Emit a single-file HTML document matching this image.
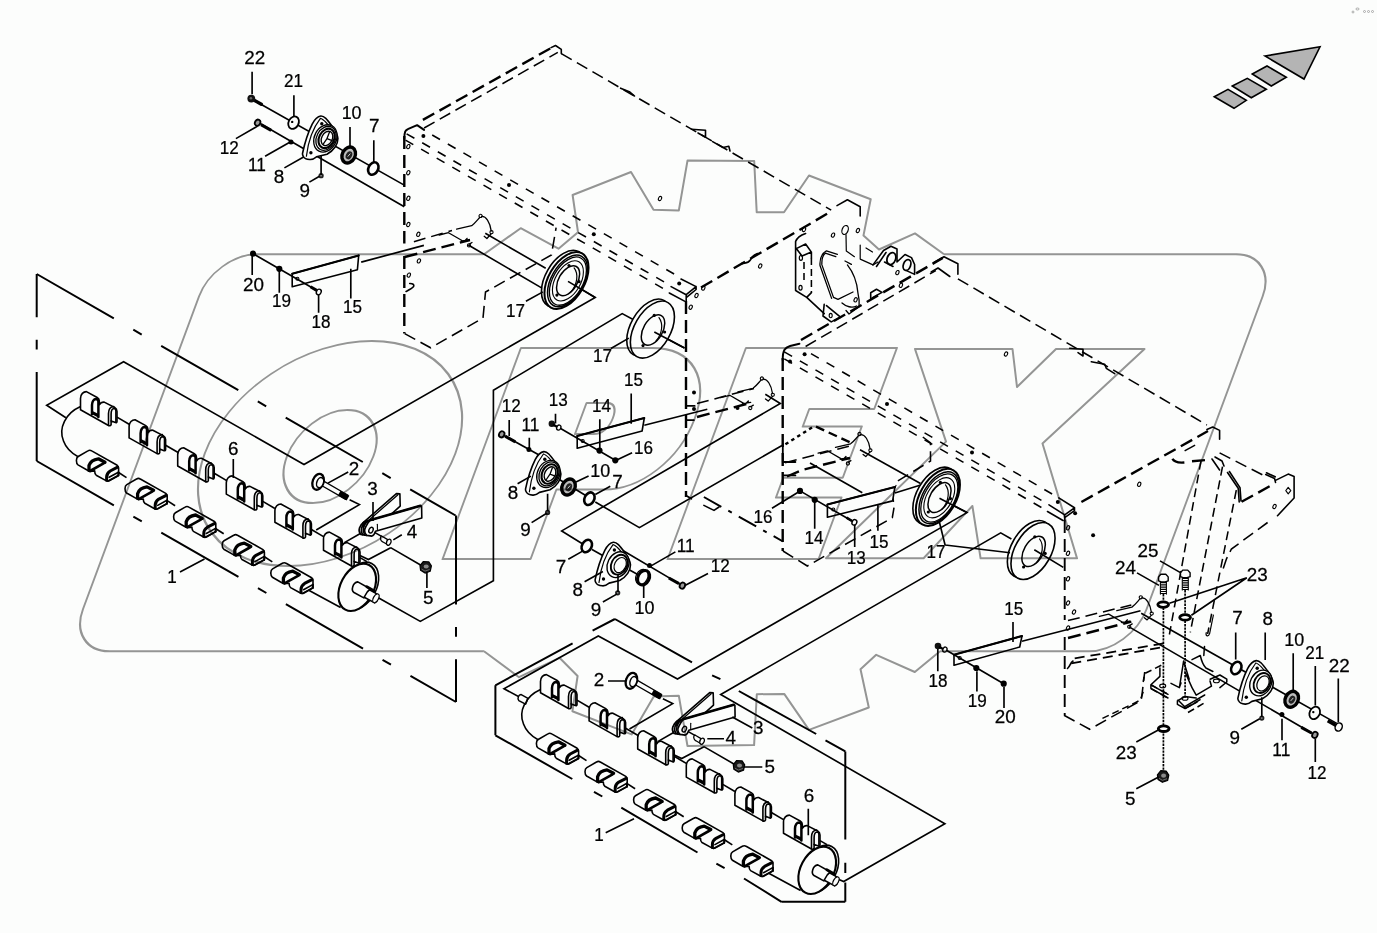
<!DOCTYPE html>
<html>
<head>
<meta charset="utf-8">
<title>Parts diagram</title>
<style>
html,body{margin:0;padding:0;background:#fcfdfc;}
body{width:1377px;height:933px;overflow:hidden;font-family:"Liberation Sans",sans-serif;}
svg{display:block;position:absolute;left:0;top:0;}
.k{stroke:#000;fill:none;stroke-width:1.6;stroke-linecap:round;stroke-linejoin:round;}
.t{stroke:#000;fill:none;stroke-width:1.65;stroke-linecap:butt;}
.w{stroke:#000;fill:#fcfdfc;stroke-width:1.6;stroke-linejoin:round;}
.b{stroke:#000;fill:none;stroke-width:2.2;stroke-linecap:round;stroke-linejoin:round;}
.f{fill:#000;stroke:none;}
.dd{stroke:#000;fill:none;stroke-width:2;stroke-dasharray:89 22.5 9.7 22.5;}
.fb{stroke:#000;fill:none;stroke-width:2;}
.hd{stroke:#000;fill:none;stroke-width:2.4;stroke-dasharray:13 6;}
.hs{stroke:#000;fill:none;stroke-width:1.55;stroke-dasharray:12 6;}
.wm{stroke:#969696;fill:none;stroke-width:2;stroke-linejoin:round;}
text{font-family:"Liberation Sans",sans-serif;font-size:18.5px;fill:#000;stroke:#000;stroke-width:0.25;text-anchor:middle;}
</style>
</head>
<body>
<svg width="1377" height="933" viewBox="0 0 1377 933">
<defs>
<!-- upper clip (part 6) origin = top-left of bbox -->
<g id="cu">
<path class="w" d="M0,18.2 L0,6.9 C0,2.5 3,0 5.9,0 L16.7,5.9 C18,6.6 18.8,7.8 18.8,9.5 L18.8,13.2 C20,11.2 21.5,10.3 23.7,10.5 L34.2,15.9 C35.8,16.8 36.5,18 36.5,19.8 L36.5,29.8 C36.5,31 35.8,31.3 35,31 L30.6,29.3 L30.6,33 Q30,34.6 28,33.9 Z"/>
<path class="b" style="stroke-width:2.5" d="M11.5,22.5 L11.5,13.5 C11.5,9.8 13.4,7.3 15.6,7.4 C17.2,7.7 17.9,8.6 17.9,10 L17.9,25.5"/>
<path class="f" d="M12,19.3 L17.6,22.2 L17.6,26 L12,23 Z"/>
<path class="k" d="M28,33.9 L28,22 C28,18 30,15.3 33.2,14.9"/>
<path class="k" style="stroke-width:1.6" d="M30.6,29.3 L30.6,22.5 C30.6,19 32,17 33.6,16.9 C35,16.9 35.4,18 35.4,19.5 L35.4,30.6"/>
</g>
<!-- lower clip origin = top-left of bbox -->
<g id="cl">
<path class="w" d="M1.8,6.5 L11.5,0.9 Q13.4,-0.3 15.3,0.9 L40.8,15.3 Q42.2,16.2 42.2,18 L42.2,24.2 Q42.2,25.6 41,26.2 L32.8,30.8 Q31.2,31.6 29.6,30.6 L19.8,25.2 Q18.3,24.2 18.3,20.9 L13.7,21.4 Q12.3,21.3 11.1,20.3 L1.6,14.9 Q0,13.8 0,10.6 Q0,7.6 1.8,6.5 Z"/>
<path class="b" style="stroke-width:3.3" d="M28.6,12.2 L22,8.8 Q14.4,9.8 12.6,15.6 L12.6,20"/>
<path class="b" style="stroke-width:2.6" d="M13.7,21 L27.6,13.2"/>
<path class="b" style="stroke-width:3" d="M41.2,17.2 L33.8,21 Q30.2,23.4 30.2,27 L30.2,30.2"/><path class="b" style="stroke-width:2" d="M42,22.4 L42,25.6"/>
<path class="k" d="M32.7,27.3 L42,22.2 M31.7,31 L42.2,25.3"/>
</g>

<!-- roller end disc + shaft, origin = disc centre -->
<g id="disc">
<ellipse class="w" cx="2.6" cy="-1.4" rx="25.3" ry="16.6" transform="rotate(-62 2.6 -1.4)"/>
<ellipse class="w" style="stroke-width:2.1" cx="0" cy="0" rx="25.3" ry="16.6" transform="rotate(-62)"/>
<path class="w" d="M0.6,-5.4 L12.4,1.2 L12.3,2.6 L19.6,6.6 C21.8,8.6 20.8,14 17.6,15.6 L7,10 L6.6,10.6 L-3.2,5.2 C-6.4,3 -4.6,-4.6 0.6,-5.4 Z"/>
<path class="k" d="M12.3,2.4 C9.5,4 8.2,7.8 7,10"/>
<ellipse class="w" style="stroke-width:1.2" cx="18.7" cy="11" rx="4.8" ry="2.5" transform="rotate(-62 18.7 11)"/>
<path class="b" style="stroke-width:2.8" d="M9.6,-0.6 L17,3.6"/>
</g>
<!-- flanged bolt (2), origin=head centre, pointing 30deg down-right -->
<g id="bolt2">
<path class="w" style="stroke-width:1.3" d="M2.6,-2.4 L30,13.4 L27.6,17.6 L0.4,2 Z"/>
<path class="f" d="M22.4,9 L31.2,14 L28.6,18.6 L19.8,13.6 Z"/>
<ellipse class="w" cx="0" cy="0" rx="8.2" ry="5.4" transform="rotate(-70)" style="stroke-width:2.3"/>
<ellipse class="w" cx="2" cy="0.8" rx="5.2" ry="3.3" transform="rotate(-70 2 0.8)" style="stroke-width:1.5"/>
</g>
<!-- lever (3) origin = hub hole centre -->
<g id="lever">
<path class="w" d="M-8.1,-7.3 L25.4,-36.5 L28.9,-36.2 L29.2,-24 L12,-8.5 L-2,-3 Z"/>
<path class="k" style="stroke-width:1.3" d="M-6.2,-6.4 L26.7,-35.1"/>
<path class="w" style="stroke-width:1.7" d="M-6.6,-8.4 C-11.8,-5 -13.2,1 -10.4,4.2 L-4.2,5.3 L-0.4,-10.1 Z"/>
<path class="k" style="stroke-width:1.6" d="M-2.6,-9.6 C-7.6,-6 -9,0 -6.4,5 M-4.6,-9 C-9.6,-5.5 -11,0.5 -8.4,4.6"/>
<path class="w" d="M-0.4,-10.1 L49.4,-24.3 L50.6,-23.8 L50.8,-12.1 L4.5,1.1 C3.5,4 2.5,5.6 1,6 L-4.2,5.3 C-6.5,3 -6.8,-0.5 -5.3,-3.1 C-4.2,-6 -2.5,-8.6 -0.4,-10.1 Z"/>
<path class="k" style="stroke-width:2.6" d="M-0.4,-10.1 L49.4,-24.3"/>
<ellipse class="w" style="stroke-width:1.4" cx="0" cy="0" rx="2" ry="3" transform="rotate(25)"/>
<path class="k" style="stroke-width:1.1" d="M6.4,-5.8 L6.4,-0.6"/>
</g>
<!-- pin (4) origin=centre -->
<g id="pin4">
<path class="w" style="stroke-width:1.3" d="M-4.6,-3 L1.5,0.6 C0,2.5 0.5,5.5 2.4,6.2 L-3.6,2.8 C-6.2,1.5 -6.4,-2 -4.6,-3 Z"/>
<ellipse class="w" style="stroke-width:1.3" cx="2.6" cy="3.2" rx="2.1" ry="3.2" transform="rotate(25 2.6 3.2)"/>
</g>
<!-- hex nut (5) origin=centre -->
<g id="nut5">
<path d="M-5.6,-1.5 L-2.2,-5.6 L3.2,-5.2 L5.8,-1.2 L4.6,4.2 L-0.6,6 L-5,3.2 Z" fill="#1a1a1a" stroke="#000" stroke-width="1.2" stroke-linejoin="round"/>
<ellipse cx="0.6" cy="-0.6" rx="2.5" ry="2.1" fill="#8a8a8a"/>
<path d="M-4,2 L-0.6,4 L4,2.4" stroke="#777" stroke-width="0.9" fill="none"/>
</g>

<!-- flange 8, origin = boss centre -->
<g id="fl8">
<path class="w" d="M-23.5,15.5 C-21.5,6 -18,-5.5 -13.8,-13.9 C-11.4,-18.6 -9,-21.6 -5.2,-22 C-1.6,-22.2 1,-18.6 6.3,-11.5 C9.4,-7.2 11.6,-3.4 11.9,0.5 C12,6 8,12.5 1,16.2 L-9.5,18.8 C-12,20.8 -14,21.8 -16.3,21.5 C-19.4,21.4 -22,20 -22.8,18.2 C-23.4,17.2 -23.6,16.4 -23.5,15.5 Z"/>
<path class="k" style="stroke-width:1.2" d="M-19.6,18.2 C-18,5 -13,-10 -5.6,-19.6 M-5.6,-19.6 C-2,-19 3,-12.6 8.4,-5"/>
<ellipse class="w" style="stroke-width:1.3" cx="-0.6" cy="0.4" rx="11" ry="14.2" transform="rotate(27 -0.6 0.4)"/>
<ellipse class="w" style="stroke-width:1.3" cx="0" cy="0.3" rx="9.4" ry="12.6" transform="rotate(27 0 0.3)"/>
<ellipse class="w" style="stroke-width:2.1" cx="0.6" cy="0.4" rx="7.5" ry="10.2" transform="rotate(27 0.6 0.4)"/>
<ellipse class="w" style="stroke-width:1.4" cx="1" cy="0.4" rx="5.3" ry="7.6" transform="rotate(27 1 0.4)"/>
<path class="k" style="stroke-width:1.3" d="M1,0.6 L3.4,-5.8 M1,0.6 L-3,6.4 M1,0.6 L6.2,2.6"/>
<circle class="f" cx="-4.2" cy="-14.3" r="1.7"/><circle class="f" cx="-15.1" cy="14.7" r="1.7"/>
</g>
<g id="fl8b">
<path class="w" d="M-23.5,15.5 C-21.5,6 -18,-5.5 -13.8,-13.9 C-11.4,-18.6 -9,-21.6 -5.2,-22 C-1.6,-22.2 1,-18.6 6.3,-11.5 C9.4,-7.2 11.6,-3.4 11.9,0.5 C12,6 8,12.5 1,16.2 L-9.5,18.8 C-12,20.8 -14,21.8 -16.3,21.5 C-19.4,21.4 -22,20 -22.8,18.2 C-23.4,17.2 -23.6,16.4 -23.5,15.5 Z"/>
<path class="k" style="stroke-width:1.2" d="M-19.6,18.2 C-18,5 -13,-10 -5.6,-19.6 M-5.6,-19.6 C-2,-19 3,-12.6 8.4,-5"/>
<ellipse class="w" style="stroke-width:1.4" cx="-0.6" cy="0.4" rx="10.4" ry="13.4" transform="rotate(27 -0.6 0.4)"/>
<ellipse class="w" style="stroke-width:1.9" cx="0.6" cy="0.4" rx="7.8" ry="10.4" transform="rotate(27 0.6 0.4)"/>
<ellipse class="w" style="stroke-width:1.2" cx="1.6" cy="0.8" rx="5.6" ry="8" transform="rotate(27 1.6 0.8)"/>
<circle class="f" cx="-4.2" cy="-14.3" r="1.7"/><circle class="f" cx="-15.1" cy="14.7" r="1.7"/>
</g>
<g id="br10"><ellipse cx="0" cy="0" rx="6.4" ry="8.3" transform="rotate(27)" fill="#bbb" stroke="#000" stroke-width="3.4"/><ellipse cx="0.4" cy="0.2" rx="3" ry="4.2" transform="rotate(27)" fill="#222"/><path d="M-1,1.6 L1.6,-1.4" stroke="#ccc" stroke-width="1"/></g>
<g id="br10b"><ellipse cx="0" cy="0" rx="5.6" ry="7.6" transform="rotate(27)" fill="#fcfdfc" stroke="#000" stroke-width="3.1"/><ellipse cx="-1.8" cy="-0.8" rx="5.8" ry="7.8" transform="rotate(27 -1.8 -0.8)" fill="none" stroke="#000" stroke-width="1.2"/></g>
<g id="rg7"><ellipse cx="0" cy="0" rx="4.8" ry="6.6" transform="rotate(27)" fill="#fcfdfc" stroke="#000" stroke-width="2.6"/></g>
<g id="rg21"><ellipse cx="0" cy="0" rx="5" ry="6.5" transform="rotate(27)" fill="#fcfdfc" stroke="#000" stroke-width="1.8"/><circle class="f" cx="-1.4" cy="-0.8" r="1.2"/></g>
<g id="bo22"><path d="M0,0 L10,5.7" stroke="#000" stroke-width="3.4" stroke-linecap="round"/><circle cx="0" cy="0" r="3.9" fill="#111"/><circle cx="-0.4" cy="-0.4" r="1.3" fill="#666"/></g>
<g id="bo12"><path d="M3.4,1.9 L13.6,7.6" stroke="#000" stroke-width="3.1" stroke-linecap="butt"/><ellipse cx="0" cy="0" rx="2.6" ry="3.2" transform="rotate(27)" fill="#999" stroke="#000" stroke-width="1.8"/></g>
<g id="w11"><circle class="f" r="2.5"/></g>
<g id="n9"><circle r="2.6" fill="#222"/><circle r="0.9" fill="#888"/></g>
<g id="dot"><circle class="f" r="3.1"/></g>
<!-- disc 17 ringed, origin centre -->
<g id="d17">
<ellipse class="w" cx="-3" cy="-1.7" rx="31.2" ry="18" transform="rotate(-60 -3 -1.7)"/>
<ellipse class="w" style="stroke-width:2" cx="0" cy="0" rx="31.2" ry="18" transform="rotate(-60)"/>
<ellipse class="k" style="stroke-width:1.5" cx="1" cy="0.4" rx="28.4" ry="16.2" transform="rotate(-60 1 0.4)"/>
<ellipse class="k" style="stroke-width:1.3" cx="1.4" cy="0.6" rx="26.4" ry="15" transform="rotate(-60 1.4 0.6)"/>
<ellipse class="k" style="stroke-width:1.5" cx="1.6" cy="0.2" rx="16.4" ry="9.4" transform="rotate(-60 1.6 0.2)"/>
<path class="k" style="stroke-width:1.2" d="M7.6,-12.6 C12,-7 11.2,3.6 4.4,11.4"/>
<ellipse class="k" style="stroke-width:1.1" cx="1.4" cy="0.4" rx="22" ry="12.6" transform="rotate(-60 1.4 0.4)"/>
<circle class="f" cx="2.5" cy="-15" r="1.6"/><circle class="f" cx="12.6" cy="1.2" r="1.6"/><circle class="f" cx="-9.6" cy="14.6" r="1.6"/>
</g>
<g id="d17b">
<ellipse class="w" cx="-3.6" cy="-2" rx="31.2" ry="18" transform="rotate(-60 -3.6 -2)"/>
<ellipse class="w" style="stroke-width:1.6" cx="0" cy="0" rx="31.2" ry="18" transform="rotate(-60)"/>
<ellipse class="k" style="stroke-width:1.5" cx="0.6" cy="0.4" rx="16.6" ry="9.6" transform="rotate(-60 0.6 0.4)"/>
<path class="k" style="stroke-width:1.2" d="M6.6,-12 C11,-6 10,4 3.6,11.4"/>
<circle class="f" cx="1.8" cy="-14.2" r="1.6"/><circle class="f" cx="12.2" cy="2.4" r="1.6"/><circle class="f" cx="-9.4" cy="16" r="1.6"/>
</g>
<g id="b24"><path class="w" style="stroke-width:1.4" d="M-4.6,-2.6 L-2.4,-5.2 L2.6,-5.2 L5,-2.6 L5,1.4 L2,2.4 L-2,2.4 L-4.6,1.4 Z"/><path d="M0.2,2.6 L0.2,14.6" stroke="#000" stroke-width="5.6" stroke-dasharray="1.2 1"/><path class="k" style="stroke-width:1.1" d="M-2.8,2.6 L-2.8,14.6 M3.2,2.6 L3.2,14.6"/></g>
<g id="w23"><ellipse cx="0" cy="0" rx="5.4" ry="2.8" fill="#fcfdfc" stroke="#000" stroke-width="2.8"/></g>

<g id="mech">
<path class="k" style="stroke-width:1.3" d="M-24,13.3 L-8.9,9.8 C-5.6,7.4 -3.4,4.4 -0.9,1.6 M0.9,0.6 C5.4,0.1 9.2,6 10.6,15 M10.4,18.1 L6.3,22.6 L3.6,20.4 M-41.4,19.1 L-32.1,16.8 L-18.2,24.9 L-11.2,23.8 M-13.5,22.5 C-15,24.6 -17,26.2 -19.4,25.2 M-11.2,28.2 L-8.6,26.6"/>
<circle cx="0" cy="0" r="1.6" class="k" style="stroke-width:1.1"/><circle cx="10.9" cy="16.3" r="1.6" class="k" style="stroke-width:1.1"/><circle cx="-11.6" cy="29.5" r="1.6" class="k" style="stroke-width:1.1"/>
</g>

<g id="bo22b"><path d="M-3,-1.7 L-11,-6.2" stroke="#000" stroke-width="3.4" stroke-linecap="butt"/><ellipse cx="0" cy="0" rx="3.4" ry="4.2" transform="rotate(27)" fill="#fcfdfc" stroke="#000" stroke-width="1.5"/></g>
</defs>
<g id="housing">
<path class="hd" d="M404.3,136 L404.3,243.5 M404.3,256 L404.3,333.6"/>
<path class="hd" d="M422.9,119.9 L555.5,45.5"/>
<path class="hd" d="M701,287.5 L831.2,211.4"/>
<path class="hd" d="M686,301 L686,497"/>
<path class="hd" d="M404.7,257 L470,240"/>
<path class="hs" d="M424.1,128 L557.8,52.4"/>
<path class="hs" d="M561.3,53.6 L831.2,210.2"/>
<path class="hs" style="stroke-dasharray:9 9" d="M432.2,135 L681,278 M406.6,133.8 L671.1,286 M405.5,140.2 L669.3,292"/>
<path class="hs" d="M413.9,241.7 L452,230.5"/>
<path class="hs" d="M404.7,333.6 L430.6,347.8 L483,318 L485.5,292 L551.4,255 L556.1,227.7"/>
<path class="k" style="stroke-width:2" d="M404.3,139 C404.3,131.5 405.5,130 407.8,129.2 L417.1,125.2 L424.1,129.9"/>
<path class="k" d="M551,47.6 L555.5,45.5 L561.3,49.4 L561.3,53.6 M620.6,88.2 L629.9,92 L634.5,96 M691.5,129.2 L705.5,130.3 L705.5,137.3 L698,133 M712.6,141.6 L723,147.5 L728.8,146.3 L730,151"/>
<path class="k" d="M837,205.6 L847.4,199.8 L860.2,206.7 L860.2,216"/>
<path class="k" d="M681,279 L696.1,286.6 L686.2,294.7 M671.1,286.6 L686.2,294.7 L686.2,302 M669.3,293 L684.5,301.1 M696.1,286.6 L696.1,289.5 L686.2,297.6"/>
<path class="k" style="stroke-width:1.8" d="M686,405.9 L694.7,405.9 M686,420.1 L693.9,420.1 M686,495.4 L691.4,498.8"/>
<path class="fb" style="stroke-dasharray:20 8 4 8" d="M703.9,497 L783,541.5"/>
<path class="k" d="M703.9,505.4 L714,510.4 L719,507"/>
<path class="hd" d="M782.7,358 L782.7,551"/>
<path class="hd" d="M801,340 L942.8,257.9"/>
<path class="hd" d="M1081.4,502 L1208,431"/>
<path class="hd" style="stroke-width:1.9" d="M1064.7,520 L1064.7,620 M1064.7,637 L1064.7,715.3"/>
<path class="hd" d="M1269.6,486.3 L1241.2,502"/>
<path class="hs" d="M805.6,346.5 L935.8,270.5"/>
<path class="hs" d="M957.9,278.8 L1206.9,425"/>
<path class="hs" style="stroke-dasharray:9 9" d="M811,353.6 L1058.8,497.9 M784.3,351.8 L1049,504.8 M784.3,358.8 L1047.5,511"/>
<path class="hs" d="M783,551 L807.3,566 L892.3,517.7 L894,507.7"/>
<path class="hd" style="stroke-dasharray:3.5 3.5" d="M785.4,444.3 L814.4,426"/><path class="hd" style="stroke-dasharray:9 5" d="M816,426.6 L851,442.8"/>
<path class="hs" d="M785,462.8 L850,446"/><path class="hd" d="M787,476.5 L802,470 L850,458"/>
<path class="hs" d="M922.8,437 L930.5,442.8 L930.5,461 L896,482"/>
<path class="k" style="stroke-width:1.8" d="M782.8,443.7 L782.8,462 L795.4,462 M782.8,475.4 L795.4,475.4"/>
<path class="k" style="stroke-width:1.2" d="M896,485.5 C893.2,490 892.4,496 893.6,501.5"/>
<path class="hs" d="M1219.6,452.9 L1265.7,476.5 M1267.6,522.5 L1231.4,549 L1226.5,558.8 L1222.5,570.6"/>
<path class="hs" style="stroke-dasharray:9 5" d="M1201,460.8 L1169.4,634.5 M1222.5,466.7 L1190.3,632.4 M1236.3,490.2 L1207.6,634"/><path class="k" style="stroke-width:1.2" d="M1213.4,615 L1209.6,633.6 C1208.4,637 1205.4,636.4 1206.2,632.6"/>
<path class="hs" d="M1064,715.3 L1089.7,729.3 L1141.3,700.3 L1144.7,672"/>
<path class="hs" d="M1195.1,445.1 L1180,453.5"/><path class="hd" d="M1172.5,458.8 C1174,462 1180,463 1185.3,462.4 M1192,461.2 L1207,460"/>
<path class="k" style="stroke-width:2" d="M782.7,360 C782.7,350 785,347.5 790.1,346 L799.4,343.7"/>
<path class="k" d="M933.5,262.6 L944,256.7 L957.9,263.7 L957.9,274.2 M931.2,271.9 L938,268 L949.8,276.5"/>
<path class="k" d="M1058.8,497.9 L1074.5,507.8 L1064.7,514.9 L1064.7,521 M1049,504.8 L1064.7,514.9 M1047.5,511.5 L1063,520.5 M1074.5,507.8 L1074.5,510.6 L1064.7,517.7"/>
<path class="k" d="M1206.9,429.4 L1212.7,427 L1219.6,430.4 L1219.6,439.2"/>
<path class="k" d="M1265.7,474.5 L1274.5,478.4 L1275.5,482.4 M1266.5,472.8 L1275.2,476.8 M1275.5,480.4 L1288.2,474.1 L1294.1,476.5 L1294.1,498 L1277.5,515.7"/>
<path class="k" d="M1227.5,472.5 L1238.2,488.2 L1239.2,502 M1229.4,471.5 L1240,487.6 L1241,501 M1215,457 L1222,461 L1224,466 M1212,459 L1219.6,470"/>
<path class="k" style="stroke-width:1.1" d="M1288.2,487.4 L1290.8,490.6 L1288.2,493.8 L1285.8,490.6 Z"/>
<ellipse cx="408.3" cy="146.6" rx="1.5" ry="2.2" transform="rotate(25 408.3 146.6)" class="k" style="stroke-width:1.1"/>
<ellipse cx="408.3" cy="172.7" rx="1.5" ry="2.2" transform="rotate(25 408.3 172.7)" class="k" style="stroke-width:1.1"/>
<ellipse cx="408.3" cy="198.3" rx="1.5" ry="2.2" transform="rotate(25 408.3 198.3)" class="k" style="stroke-width:1.1"/>
<ellipse cx="408.3" cy="224.5" rx="1.5" ry="2.2" transform="rotate(25 408.3 224.5)" class="k" style="stroke-width:1.1"/>
<ellipse cx="418.3" cy="234.3" rx="1.5" ry="2.2" transform="rotate(25 418.3 234.3)" class="k" style="stroke-width:1.1"/>
<ellipse cx="418.9" cy="260.9" rx="1.5" ry="2.2" transform="rotate(25 418.9 260.9)" class="k" style="stroke-width:1.1"/>
<ellipse cx="408.8" cy="275.1" rx="1.5" ry="2.2" transform="rotate(25 408.8 275.1)" class="k" style="stroke-width:1.1"/>
<ellipse cx="703.3" cy="288.1" rx="1.5" ry="2.2" transform="rotate(25 703.3 288.1)" class="k" style="stroke-width:1.1"/>
<ellipse cx="696.5" cy="295.5" rx="1.5" ry="2.2" transform="rotate(25 696.5 295.5)" class="k" style="stroke-width:1.1"/>
<ellipse cx="690.7" cy="307.2" rx="1.5" ry="2.2" transform="rotate(25 690.7 307.2)" class="k" style="stroke-width:1.1"/>
<ellipse cx="760.2" cy="266" rx="1.5" ry="2.2" transform="rotate(25 760.2 266)" class="k" style="stroke-width:1.1"/>
<ellipse cx="804" cy="229.5" rx="1.5" ry="2.2" transform="rotate(25 804 229.5)" class="k" style="stroke-width:1.1"/>
<ellipse cx="833" cy="235.1" rx="1.5" ry="2.2" transform="rotate(25 833 235.1)" class="k" style="stroke-width:1.1"/>
<ellipse cx="857.9" cy="230.5" rx="1.5" ry="2.2" transform="rotate(25 857.9 230.5)" class="k" style="stroke-width:1.1"/>
<ellipse cx="897.4" cy="272.6" rx="1.5" ry="2.2" transform="rotate(25 897.4 272.6)" class="k" style="stroke-width:1.1"/>
<ellipse cx="900.9" cy="285.3" rx="1.5" ry="2.2" transform="rotate(25 900.9 285.3)" class="k" style="stroke-width:1.1"/>
<ellipse cx="855.6" cy="299.8" rx="1.5" ry="2.2" transform="rotate(25 855.6 299.8)" class="k" style="stroke-width:1.1"/>
<ellipse cx="1139.2" cy="484.3" rx="1.5" ry="2.2" transform="rotate(25 1139.2 484.3)" class="k" style="stroke-width:1.1"/>
<ellipse cx="1274.5" cy="506.5" rx="1.5" ry="2.2" transform="rotate(25 1274.5 506.5)" class="k" style="stroke-width:1.1"/>
<ellipse cx="1068" cy="527.8" rx="1.5" ry="2.2" transform="rotate(25 1068 527.8)" class="k" style="stroke-width:1.1"/>
<ellipse cx="1068" cy="553.3" rx="1.5" ry="2.2" transform="rotate(25 1068 553.3)" class="k" style="stroke-width:1.1"/>
<ellipse cx="1068" cy="578.8" rx="1.5" ry="2.2" transform="rotate(25 1068 578.8)" class="k" style="stroke-width:1.1"/>
<ellipse cx="1068" cy="603" rx="1.5" ry="2.2" transform="rotate(25 1068 603)" class="k" style="stroke-width:1.1"/>
<ellipse cx="1068" cy="628" rx="1.5" ry="2.2" transform="rotate(25 1068 628)" class="k" style="stroke-width:1.1"/>
<ellipse cx="1074" cy="612" rx="1.5" ry="2.2" transform="rotate(25 1074 612)" class="k" style="stroke-width:1.1"/>
<ellipse cx="1006" cy="354" rx="1.5" ry="2.2" transform="rotate(25 1006 354)" class="k" style="stroke-width:1.1"/>
<ellipse cx="660" cy="198.5" rx="1.5" ry="2.2" transform="rotate(25 660 198.5)" class="k" style="stroke-width:1.1"/>
<circle class="f" cx="423.4" cy="135.9" r="2"/>
<circle class="f" cx="509" cy="185" r="2"/>
<circle class="f" cx="593.8" cy="234.3" r="2"/>
<circle class="f" cx="679.2" cy="283.4" r="2"/>
<circle class="f" cx="804.6" cy="354.3" r="2"/>
<circle class="f" cx="887" cy="404" r="2"/>
<circle class="f" cx="972" cy="452.5" r="2"/>
<circle class="f" cx="1057.8" cy="502" r="2"/>
<circle class="f" cx="1075.1" cy="513.3" r="2"/>
<circle class="f" cx="1093.1" cy="535.3" r="2"/>
<circle class="f" cx="790" cy="361.5" r="2"/>
<circle class="f" cx="737.5" cy="408" r="2"/>
<circle class="f" cx="694" cy="392.5" r="2"/>
<circle class="f" cx="694" cy="409" r="2"/>
<path class="k" d="M406,291.5 C409,290 412,288.6 413.6,286.6 C414.6,284.6 412.6,283.4 409.7,283.5"/>
<path class="k" style="stroke-width:1.8" d="M742,263.5 C746,262.6 748.6,263.2 750.4,259.8 C751.6,256.4 754,255 757.5,253.6"/>
<use href="#mech" x="480.6" y="215.9"/>
<use href="#mech" x="761.9" y="378.5"/>
<use href="#mech" x="859.5" y="434"/>
<use href="#mech" x="1140.8" y="597.3"/>
<g id="latch">
<path class="k" d="M795.6,290.5 L795.6,241.6 C797,237.5 801,235 805.6,233.5 M796.3,248.6 L805.6,244 L811.4,252.1 L811.4,258 M796.3,248.6 L802,256 L811.4,252.1 M795.6,290.5 L806.7,297.4 L811.4,292.6 M806.7,297.4 L824.2,313.7"/>
<path class="hs" style="stroke-dasharray:7 4" d="M811.4,258 L811.4,292.6 M804,262 L804,284"/>
<ellipse cx="800.9" cy="257.9" rx="1.6" ry="2.4" class="k" style="stroke-width:1.2"/><ellipse cx="800.5" cy="287.7" rx="1.6" ry="2.4" class="k" style="stroke-width:1.2"/>
<path class="k" style="stroke-width:1.3" d="M835.8,256.7 L825.4,253.2 C822.6,255.5 821.6,260 821.9,264.9 L833.5,297.4 L838,299.4 L853,292 M837.4,254.4 L826.4,250.8 C821.6,253.6 819.6,259 820,265.5 L831.6,298.4"/>
<path class="k" style="stroke-width:1.3" d="M845,261 L851.4,264.4 M847.4,264.9 C853,272 857,282 857.9,292.8 C859,297 859.4,302 859.1,306.7 L849,314 L846,310.5 M842,303 C846,306.6 852,308.4 856.6,306"/>
<path class="k" d="M824.2,304.4 L823,316 L831.2,321.9 L840.5,317.2 L826.5,305.6"/><ellipse cx="830.7" cy="315.6" rx="1.5" ry="2.2" class="k" style="stroke-width:1.1"/>
<ellipse cx="845.1" cy="230" rx="3" ry="4.6" transform="rotate(20 845.1 230)" class="k" style="stroke-width:1.2"/>
<path class="k" style="stroke-width:1.2" d="M846,234.6 L846.3,250.9 L854.4,256.7 M860.2,245.1 L860.2,259.1 L873,264.9 L878,262 M866,248 L872.5,252"/>
<path class="k" d="M873,264.9 L883.5,250.5 L891,246.2 L897,249 L897,262 M876.5,266.5 L886,252.5 M897,262 L905,254.5 L911.5,257.6 L914.6,264.5 L914.6,274.4 L906.5,270.6 M884.5,262 L893,266.5"/>
<ellipse cx="891.4" cy="258.6" rx="4.2" ry="6.2" transform="rotate(20 891.4 258.6)" class="k" style="stroke-width:1.8"/>
<ellipse cx="907" cy="265" rx="3.6" ry="5.6" transform="rotate(20 907 265)" class="k" style="stroke-width:1.8"/>
<path class="k" d="M870.7,298.6 L870.7,292.8 L876.5,289.3 L882,292.4 L872.5,297.6"/>
</g>

<!-- H1 right-side rails -->
<path class="hs" d="M697,403.5 L754,388.5"/><path class="hd" d="M697,417 L750,403"/>
<!-- H2 top-back brackets -->
<path class="k" d="M1069.7,348.3 L1083,349.3 L1083,356 L1078,352.7 M1091.3,361.7 L1104.7,364.3 L1106.3,368.3 L1114.7,373.7"/>
<!-- H2 right-side rails near mech R -->
<path class="hs" d="M1068,620.5 L1131.3,605"/><path class="hd" d="M1068,638 L1131.3,621.7"/>
<path class="hd" style="stroke-width:1.8;stroke-dasharray:10 6" d="M1074.7,658.3 L1164.7,643.3 M1071.3,663.3 L1164.7,646.9"/><path class="k" d="M1073,661 C1070,662.5 1070.5,666 1067.5,668.5"/>
<!-- base bracket -->
<g id="basebr">
<path class="k" style="stroke-width:1.5" d="M1150.9,684.8 L1168,694.3 M1150.9,688.4 L1168,698 M1178,700 L1184.7,706.7 L1204.7,695 M1150.9,684.8 L1159.9,676.4 L1159.9,668 M1150.9,684.8 L1150.9,688 M1177.4,700.8 L1185,696.5 L1196.2,698 M1177.4,700.8 L1177.4,704.3 L1185,708.5 L1197,702 M1183.6,661.1 L1179.4,687.6 M1183.6,661.1 L1189.2,679.2 M1171,683.4 L1179.4,687.6 L1181,683 M1192,659.7 L1200.3,655.5 C1201.5,661 1203,665 1205.9,668 L1212.9,671.5 M1204.5,646.4 L1203.8,655.5 M1192,687.6 L1196.2,695.2 L1211.5,686.2 L1210,681 M1210.1,679.2 L1219.9,675 L1226.8,679.2 L1226.8,682 L1219.9,687.6 M1185,672 L1192,687.6"/>
<path class="hs" style="stroke-dasharray:7 4" d="M1150.9,684.8 L1169.7,695.2 M1150.9,688.6 L1169.7,699 M1185,708.5 L1203,698 M1188,712.5 L1206,702 M1161.3,665.3 L1144.6,673.6 L1143.2,682 M1143.2,691.7 L1140.4,700.1 L1134.8,702.9 L1100,719.6"/>
<ellipse cx="1162.7" cy="685.9" rx="3" ry="1.8" class="k" style="stroke-width:1.1"/><ellipse cx="1185" cy="698.4" rx="3" ry="1.8" class="k" style="stroke-width:1.1"/><ellipse cx="1216.4" cy="680.9" rx="3" ry="1.8" class="k" style="stroke-width:1.1"/>
</g>
</g>
<g id="lines"><path class="t" d="M65.9,417.7 L46.7,405.2 L123.6,361.7 L304.0,464.5 L595.2,297.5 L579.7,288.1 M634.5,320.2 L622.2,313.6 L493.4,390.3 L493.4,580.8 L420.3,621.4 L378.3,597.8 M654.3,331.9 L684.5,348.1 M485.3,233.3 L545.7,268.3 M468.3,245.0 L542.0,288.1 M586.0,546.0 L561.7,530.9 L780.3,403.5 L765.3,394.3 M595.3,502.0 L639.4,527.6 L782.0,445.5 M361.2,262.1 L423.9,245.4 M644.3,425.2 L707.3,409.3 M255.1,101.0 L404.7,185.4 M258.8,122.7 L404.3,206.7 M501.7,434.3 L541.8,456.5 M556.0,477.5 L589.0,497.5 M592.0,549.5 L608.0,558.5 M626.0,568.0 L643.6,577.7 M622.0,550.0 L682.4,585.6 M527.3,701.3 L504.0,688.7 L598.3,636.0 L677.5,679.0 L967.0,512.6 L949.5,503.3 M1011.4,539.0 L1000.7,532.9 L720.7,694.5 L944.9,823.7 L843.7,881.5 L836.5,878.5 M860.0,449.8 L920.5,483.5 M810.0,463.0 L862.3,492.8 M894.9,493.0 L924.0,484.0 M1022.0,641.3 L1140.5,610.8 M1141.2,613.2 L1336.7,723.4 M1128.7,626.6 L1314.7,734.7"/></g>
<g id="frameA"><path class="dd" d="M36.7,274 L455.6,515.5"/><path class="dd" d="M456,515.5 L456,702"/><path class="dd" d="M36.7,461 L456,702"/><path class="dd" d="M36.7,461 L36.7,274"/></g>
<g id="frameB"><path class="fb" d="M495.4,685.3 L495.4,735.3 M495.4,685.3 L572.6,643.4 M592.6,630.7 L614.9,619.0 M614.9,619.0 L692.0,662.4 M712.1,675.3 L720.4,679.2 M738.8,691.0 L816.2,734.0 M825.5,740.4 L845.3,751.4 M845.3,751.4 L845.3,839.6 M845.3,862.7 L845.3,872.9 M845.3,882.4 L845.3,901.8 M845.3,901.8 L781.5,901.8 M781.5,901.8 L744.0,878.5 M724.6,868.2 L716.4,863.7 M697.5,852.5 L621.3,807.6 M602.3,796.5 L594.0,791.8 M572.3,779.0 L495.4,735.3"/></g>
<g id="rollerA"><g transform="translate(0,0)">
<path class="k" d="M80.1,406.8 C66,413 58,428 63.5,441 C66,448 71,453 78.5,457"/>
<path class="t" d="M117.0,417.1 L129.1,424.2"/>
<path class="t" d="M165.6,445.2 L177.7,452.3"/>
<path class="t" d="M214.2,473.3 L226.3,480.4"/>
<path class="t" d="M262.8,501.4 L274.9,508.5"/>
<path class="t" d="M311.4,529.5 L323.5,536.6"/>
<path class="t" d="M118.6,472.5 L126.5,477.6"/>
<path class="t" d="M167.2,500.6 L175.1,505.7"/>
<path class="t" d="M215.8,528.7 L223.7,533.8"/>
<path class="t" d="M264.4,556.8 L272.3,561.9"/>
<path class="t" d="M309.2,590.6 L340.6,607.6 M360,557.6 L367,561.6"/>
<use href="#disc" x="357.2" y="587.3"/>
<use href="#cu" x="80.5" y="391.6"/>
<use href="#cu" x="129.1" y="419.7"/>
<use href="#cu" x="177.7" y="447.8"/>
<use href="#cu" x="226.3" y="475.9"/>
<use href="#cu" x="274.9" y="504.0"/>
<use href="#cu" x="323.5" y="532.1"/>
<use href="#cl" x="76.4" y="450.0"/>
<use href="#cl" x="125.0" y="478.1"/>
<use href="#cl" x="173.6" y="506.2"/>
<use href="#cl" x="222.2" y="534.3"/>
<use href="#cl" x="270.8" y="562.4"/>
</g><g transform="translate(0,0)">
<path class="t" d="M349.6,499.8 L359.4,504.6 L316.2,530 M361.2,533 L344.4,542.6 M375,532.6 L382,536.6 M390.6,547.6 L421,565.2 M390.7,547.8 L368.4,559.5 L360,555.6"/>
<use href="#bolt2" x="318.1" y="481.8"/><use href="#lever" x="371" y="530.1"/><use href="#pin4" x="386.2" y="539"/><use href="#nut5" x="425.6" y="567.1"/></g></g>
<g id="rollerB"><g transform="translate(460,283)">
<path class="k" d="M80.1,406.8 C66,413 58,428 63.5,441 C66,448 71,453 78.5,457"/>
<path class="t" d="M117.0,417.1 L129.1,424.2"/>
<path class="t" d="M165.6,445.2 L177.7,452.3"/>
<path class="t" d="M214.2,473.3 L226.3,480.4"/>
<path class="t" d="M262.8,501.4 L274.9,508.5"/>
<path class="t" d="M311.4,529.5 L323.5,536.6"/>
<path class="t" d="M118.6,472.5 L126.5,477.6"/>
<path class="t" d="M167.2,500.6 L175.1,505.7"/>
<path class="t" d="M215.8,528.7 L223.7,533.8"/>
<path class="t" d="M264.4,556.8 L272.3,561.9"/>
<path class="t" d="M309.2,590.6 L340.6,607.6 M360,557.6 L367,561.6"/>
<use href="#disc" x="357.2" y="587.3"/>
<use href="#cu" x="80.5" y="391.6"/>
<use href="#cu" x="129.1" y="419.7"/>
<use href="#cu" x="177.7" y="447.8"/>
<use href="#cu" x="226.3" y="475.9"/>
<use href="#cu" x="274.9" y="504.0"/>
<use href="#cu" x="323.5" y="532.1"/>
<use href="#cl" x="76.4" y="450.0"/>
<use href="#cl" x="125.0" y="478.1"/>
<use href="#cl" x="173.6" y="506.2"/>
<use href="#cl" x="222.2" y="534.3"/>
<use href="#cl" x="270.8" y="562.4"/>
</g><g transform="translate(313.3,199)">
<path class="t" d="M349.6,499.8 L359.4,504.6 L316.2,530 M361.2,533 L344.4,542.6 M375,532.6 L382,536.6 M390.6,547.6 L421,565.2 M390.7,547.8 L368.4,559.5 L360,555.6"/>
<use href="#bolt2" x="318.1" y="481.8"/><use href="#lever" x="371" y="530.1"/><use href="#pin4" x="386.2" y="539"/><use href="#nut5" x="425.6" y="567.1"/></g></g>
<path class="w" style="stroke-width:1.5" d="M521.2,694.6 L528,698.4 L525.6,704.2 L518.8,700.6 C517,698.6 518.6,694.4 521.2,694.6 Z"/><path class="f" d="M527.2,698 L528.4,698.6 L525.8,704.4 L524.6,703.8 Z"/>
<g id="parts">
<path class="w" d="M292.2,273.8 L358.7,255.4 L357.4,269.8 L292.2,286.8 Z"/>
<path class="k" style="stroke-width:2.1" d="M292.2,273.8 L358.7,255.4"/>
<circle cx="297.4" cy="278.8" r="1.5" class="w" style="stroke-width:1.1"/>
<path class="w" d="M577.2,436 L644.3,418 L642.1,431 L577.2,448.2 Z"/>
<path class="k" style="stroke-width:2.1" d="M577.2,436 L644.3,418"/>
<circle cx="582.7" cy="441" r="1.5" class="w" style="stroke-width:1.1"/>
<path class="w" d="M827.4,504.4 L894.9,487 L892.6,500.9 L827.4,517.2 Z"/>
<path class="k" style="stroke-width:2.1" d="M827.4,504.4 L894.9,487"/>
<circle cx="833.3" cy="509.5" r="1.5" class="w" style="stroke-width:1.1"/>
<path class="w" d="M954,654.7 L1022,636 L1019.7,647 L954,665.3 Z"/>
<path class="k" style="stroke-width:2.1" d="M954,654.7 L1022,636"/>
<circle cx="959.7" cy="658" r="1.5" class="w" style="stroke-width:1.1"/>
<path class="t" d="M253.1,253.7 L316.9,290.5 M559.3,427.7 L615.3,460.3 M800,490.9 L854.2,522.3 M944.7,649.3 L1003.7,683.7"/>
<path d="M310.5,286.8 L316.6,290.4" stroke="#000" stroke-width="3"/><ellipse cx="318.8" cy="292" rx="2.3" ry="2.9" class="w" transform="rotate(27 318.8 292)" style="stroke-width:1.4"/>
<circle cx="551.8" cy="423.8" r="3.2" fill="#111"/><ellipse cx="558.8" cy="427.6" rx="2" ry="2.6" class="w" style="stroke-width:1.3" transform="rotate(27 558.8 427.6)"/><path d="M553,424.6 L557,426.8" stroke="#000" stroke-width="2.4"/>
<path d="M846.5,517.6 L852,521" stroke="#000" stroke-width="2.6"/><ellipse cx="854.4" cy="522.4" rx="2.3" ry="2.9" class="w" transform="rotate(27 854.4 522.4)" style="stroke-width:1.4"/>
<circle cx="938" cy="646" r="3.3" fill="#111"/><ellipse cx="944.9" cy="649.6" rx="2" ry="2.6" class="w" style="stroke-width:1.3" transform="rotate(27 944.9 649.6)"/><path d="M939,646.8 L943,649" stroke="#000" stroke-width="2.4"/>
<use href="#dot" x="253.1" y="253.7"/>
<use href="#dot" x="279.3" y="268.8"/>
<use href="#dot" x="599.5" y="450.6"/>
<use href="#dot" x="615.3" y="460.3"/>
<use href="#dot" x="814.7" y="499.8"/>
<use href="#dot" x="800" y="490.9"/>
<use href="#dot" x="976.3" y="668"/>
<use href="#dot" x="1003.7" y="683.7"/>
<use href="#d17" x="566.5" y="280.5"/><use href="#d17b" x="652.4" y="329.6"/><use href="#d17" x="937.9" y="497.4"/><use href="#d17b" x="1033" y="551"/>
<path class="t" d="M568,281.4 L595.2,297.5 M654.3,331.9 L684.5,348.1 M939.5,498.3 L967,512.6 M1034.3,549.7 L1063.3,567.4"/>
<use href="#bo22" x="251.3" y="98.6"/><use href="#rg21" x="293.6" y="122.7"/><use href="#fl8" x="326" y="138"/><use href="#br10" x="348.7" y="155"/><use href="#rg7" x="373.3" y="168.5"/>
<use href="#bo12" x="257.6" y="122.7"/><use href="#w11" x="291" y="142"/><use href="#n9" x="321.1" y="175.7"/>
<use href="#bo12" x="501.7" y="434.3"/><use href="#w11" x="528.9" y="449.4"/><use href="#fl8" x="549" y="473.6"/><use href="#br10" x="568.5" y="487"/><use href="#rg7" x="589.4" y="498.7"/><use href="#n9" x="547.6" y="512.4"/>
<use href="#rg7" x="586.8" y="546"/><use href="#fl8b" x="618.6" y="564.3"/><use href="#br10b" x="643.6" y="577.7"/><use href="#w11" x="649.5" y="565.5"/><use href="#n9" x="617.7" y="592.8"/>
<g transform="translate(682.4,585.6) rotate(180)"><use href="#bo12"/></g>
<use href="#rg7" x="1236.3" y="668"/><use href="#fl8b" x="1261.4" y="682.6"/><use href="#br10" x="1291.7" y="699.3"/><use href="#rg21" x="1314.7" y="712.9"/><use href="#w11" x="1281.9" y="714.4"/><use href="#n9" x="1261.8" y="718.1"/>
<use href="#bo22b" x="1338.7" y="727"/>
<g transform="translate(1314.9,734.9) rotate(180)"><use href="#bo12"/></g>
<path d="M1163.4,594 L1163.4,771 M1185.1,590 L1185.1,698" stroke="#000" stroke-width="1.7" stroke-dasharray="2.4 1"/>
<use href="#b24" x="1163.2" y="579.5"/><use href="#b24" x="1185.1" y="575.3"/>
<use href="#w23" x="1163.2" y="604.6"/><use href="#w23" x="1185.1" y="617.4"/><use href="#w23" x="1163.7" y="728.7"/><use href="#nut5" x="1163" y="776.3"/>
</g>
<g id="labels">
<text transform="translate(254.8,64.0) scale(1.02,1)">22</text>
<text transform="translate(293.4,87.4) scale(0.925,1)">21</text>
<text transform="translate(351.6,119.2) scale(0.97,1)">10</text>
<text transform="translate(374.2,131.7) scale(1.02,1)">7</text>
<text transform="translate(229.2,154.3) scale(0.925,1)">12</text>
<text transform="translate(257,170.6) scale(0.935,1)">11</text>
<text transform="translate(278.9,182.7) scale(1.02,1)">8</text>
<text transform="translate(304.8,197.1) scale(1.02,1)">9</text>
<text transform="translate(253.4,291.1) scale(1.02,1)">20</text>
<text transform="translate(281.4,307.0) scale(0.925,1)">19</text>
<text transform="translate(321.1,327.9) scale(0.925,1)">18</text>
<text transform="translate(352.4,313.3) scale(0.925,1)">15</text>
<text transform="translate(515.5,317.0) scale(0.925,1)">17</text>
<text transform="translate(602.4,362.3) scale(0.925,1)">17</text>
<text transform="translate(233.3,455.1) scale(1.02,1)">6</text>
<text transform="translate(354,475.2) scale(1.02,1)">2</text>
<text transform="translate(372.4,494.8) scale(1.02,1)">3</text>
<text transform="translate(412,537.8) scale(1.02,1)">4</text>
<text transform="translate(428.2,603.6) scale(1.02,1)">5</text>
<text transform="translate(172,582.6) scale(0.925,1)">1</text>
<text transform="translate(511.3,412.4) scale(0.925,1)">12</text>
<text transform="translate(530.4,431.1) scale(0.935,1)">11</text>
<text transform="translate(558.3,406.0) scale(0.925,1)">13</text>
<text transform="translate(601.6,412.4) scale(0.925,1)">14</text>
<text transform="translate(633.5,386.0) scale(0.925,1)">15</text>
<text transform="translate(643.5,454.2) scale(0.925,1)">16</text>
<text transform="translate(600.3,477.2) scale(0.97,1)">10</text>
<text transform="translate(617.4,488.4) scale(1.02,1)">7</text>
<text transform="translate(513,498.5) scale(1.02,1)">8</text>
<text transform="translate(525.5,536.2) scale(1.02,1)">9</text>
<text transform="translate(561,572.9) scale(1.02,1)">7</text>
<text transform="translate(577.7,595.7) scale(1.02,1)">8</text>
<text transform="translate(596,616.1) scale(1.02,1)">9</text>
<text transform="translate(644.5,613.6) scale(0.97,1)">10</text>
<text transform="translate(685.6,551.7) scale(0.935,1)">11</text>
<text transform="translate(720.2,572.1) scale(0.925,1)">12</text>
<text transform="translate(763,523.2) scale(0.925,1)">16</text>
<text transform="translate(813.9,544.4) scale(0.925,1)">14</text>
<text transform="translate(856.3,563.9) scale(0.925,1)">13</text>
<text transform="translate(879.1,548.4) scale(0.925,1)">15</text>
<text transform="translate(936.1,557.8) scale(0.925,1)">17</text>
<text transform="translate(1147.9,557.4) scale(1.02,1)">25</text>
<text transform="translate(1125.5,574.1) scale(1.02,1)">24</text>
<text transform="translate(1257.2,580.8) scale(1.02,1)">23</text>
<text transform="translate(1237.6,623.6) scale(1.02,1)">7</text>
<text transform="translate(1267.7,624.7) scale(1.02,1)">8</text>
<text transform="translate(1294.3,645.6) scale(0.97,1)">10</text>
<text transform="translate(1314.7,658.5) scale(0.925,1)">21</text>
<text transform="translate(1339.3,671.7) scale(1.02,1)">22</text>
<text transform="translate(1013.7,615.4) scale(0.925,1)">15</text>
<text transform="translate(938,686.6) scale(0.925,1)">18</text>
<text transform="translate(977.3,706.6) scale(0.925,1)">19</text>
<text transform="translate(1005.3,722.6) scale(1.02,1)">20</text>
<text transform="translate(1126.3,759.3) scale(1.02,1)">23</text>
<text transform="translate(1130.3,804.9) scale(1.02,1)">5</text>
<text transform="translate(1234.7,744.3) scale(1.02,1)">9</text>
<text transform="translate(1281.3,755.9) scale(0.935,1)">11</text>
<text transform="translate(1317,778.6) scale(0.925,1)">12</text>
<text transform="translate(599,685.9) scale(1.02,1)">2</text>
<text transform="translate(758.3,734.3) scale(1.02,1)">3</text>
<text transform="translate(730.7,744.3) scale(1.02,1)">4</text>
<text transform="translate(769.7,773.3) scale(1.02,1)">5</text>
<text transform="translate(809,801.6) scale(1.02,1)">6</text>
<text transform="translate(599,840.9) scale(0.925,1)">1</text>
</g>
<g id="leaders"><path class="t" d="M252.1,71.8 L252.1,94.3 M293.9,95.2 L293.9,117 M350,126.9 L350,147 M373.8,140.3 L373.8,162 M235.9,138.6 L257.6,126.1 M265.1,156.2 L290.2,142 M284.4,167.9 L303.6,157 M309.4,182.1 L319.5,176.2 M321.1,155.3 L321.1,175 M252.2,255 L252.2,275.1 M279.3,270.1 L279.3,292.7 M318.6,294.4 L318.6,312.7 M350.8,268.8 L350.8,298.5 M525.9,301.3 L542.9,291.9 M610.9,348.5 L628.8,338.1 M233.3,459 L233.3,478 M348.2,472 L327.9,483.1 M373,502 L373,521 M401.8,534.7 L393.3,539.9 M426.9,572.3 L426.9,588 M180,572 L204.5,559 M509.2,420.1 L509.2,436 M529.3,437.7 L529.3,448.6 M555.5,413.8 L555.5,423.5 M599.8,419.3 L599.8,450.2 M631.2,393.4 L631.2,423.8 M617.8,459.4 L632.1,452.7 M574.4,482.8 L588.6,476.1 M595.3,494.5 L610.3,486.2 M517.6,483.7 L530.9,476.1 M531.6,522.6 L546.7,513.2 M547.6,493.7 L547.6,511 M568.3,559.2 L582.6,551.1 M584.6,581.7 L602.9,571.5 M602.9,602 L617.2,593.9 M643.7,598 L643.7,585.7 M675.4,551.9 L649.8,566.6 M708,573.5 L684.4,585.7 M618,575 L618,592 M772,508.3 L798.5,492 M814.7,500.2 L814.7,528.7 M854.7,524.6 L854.7,547 M877.9,504.3 L877.9,530.7 M945.1,545 L939,520.5 M945.1,545 L1010,552.7 M1160,560.9 L1180.9,572.9 M1137,572.9 L1159,585.4 M1246.8,577.7 L1169.4,603.2 M1246.8,577.7 L1191.4,615.3 M1235.7,632.4 L1235.7,659.6 M1265.2,632.4 L1265.2,660 M1293.2,653.3 L1293.2,691 M1315.3,665.9 L1315.3,705.6 M1338.3,678.4 L1338.3,722.3 M1013,622 L1013,642 M937.8,648.9 L937.8,671.3 M976.9,671.3 L976.9,691.6 M1004,687 L1004,708 M1136.3,742 L1159.7,729.3 M1136.3,788.7 L1158.7,777 M1241.3,729.3 L1259.7,718.7 M1261.8,697.2 L1261.8,717 M1282,718.7 L1282,740.3 M1315.3,738.7 L1315.3,762 M608,681 L625.7,681 M752.3,728 L732.3,717 M724,738.7 L707.3,738.7 M762.3,767 L744,767 M808.3,808.7 L808.3,835.3 M605.7,832.7 L634,818.7"/></g>
<g id="arrow" stroke="#000" stroke-width="1.6" fill="#b4b4b4" stroke-linejoin="miter">
<path d="M1265,56 L1320,46.8 L1304,79 Z"/><path d="M1252.3,74 L1267,66 L1286.3,77.3 L1271.3,86 Z"/>
<path d="M1232.3,86 L1247.3,78.3 L1266.3,89.3 L1251.3,97.7 Z"/><path d="M1214.3,96.7 L1228,89.3 L1246.3,100.3 L1234,108.3 Z"/></g>
<g id="watermark" class="wm" style="mix-blend-mode:multiply">
<path d="M484.0,254.3 L520.7,228.2 L558.5,248.7 L578.0,232.2 L572.6,195.0 L631.0,172.0 L653.5,209.7 L678.8,210.6 L687.5,160.6 L754.2,161.0 L756.7,212.2 L784.0,212.2 L809.0,175.5 L870.7,199.3 L863.5,235.4 L879.0,249.5 L915.0,233.4 L944.0,254.3"/>
<path d="M484.0,651.3 L519.0,677.2 L559.5,657.8 L577.6,676.0 L572.4,711.3 L631.6,734.4 L653.8,696.4 L678.8,695.7 L687.5,746.0 L754.1,745.1 L756.8,694.2 L784.2,693.9 L809.0,729.9 L868.8,707.5 L860.5,669.2 L876.2,654.8 L914.8,672.0 L940.0,651.3"/>
<g transform="matrix(1 0 -0.371 1 0 0)">
<path d="M1038.3,254.3 L1330.6,254.3 A42,42 0 0 1 1372.6,296.3 L1372.6,609.3 A42,42 0 0 1 1330.6,651.3 L1181.6,651.3"/>
<path d="M725.6,651.3 L351,651.3 A42,42 0 0 1 309,609.3 L309,296.3 A42,42 0 0 1 351,254.3 L578.3,254.3"/>
<ellipse cx="498.3" cy="453.5" rx="125.3" ry="112.5"/>
<ellipse cx="499.5" cy="456.6" rx="43.2" ry="46.5"/>
<path d="M650,559 L650,348 L781,348 C822,348 850,378 850,419 C850,460 822,489.5 786,489.5 L738,489.5 L738,559 Z"/>
<path d="M736,403 L757,403 C764,403 768,409 768,418 C768,428 763,434 755,434 L736,434 Z"/>
<path d="M875,348 L1026,348 L1026,409 L961,409 L961,426.5 L1020,426.5 L1020,477.7 L960.5,477.7 L960.5,497.4 L1026,497.4 L1026,559 L875,559 Z"/>
</g>
<path d="M915.0,349.0 L1012.5,349.0 L1017.0,387.0 L1056.0,349.0 L1144.5,349.0 L1042.5,443.5 L1077.0,558.3 L980.6,558.3 L972.4,506.0 L923.6,558.3 L826.0,558.3 L946.0,441.6 Z"/>
</g>
<g fill="none" stroke="#999" stroke-width="0.8"><circle cx="1353" cy="12" r="1"/><ellipse cx="1357.5" cy="9" rx="1.6" ry="1"/><circle cx="1364.5" cy="11.5" r="1"/><circle cx="1368.5" cy="11.5" r="1"/><circle cx="1372.5" cy="11.5" r="1"/></g>
</svg>
</body>
</html>
